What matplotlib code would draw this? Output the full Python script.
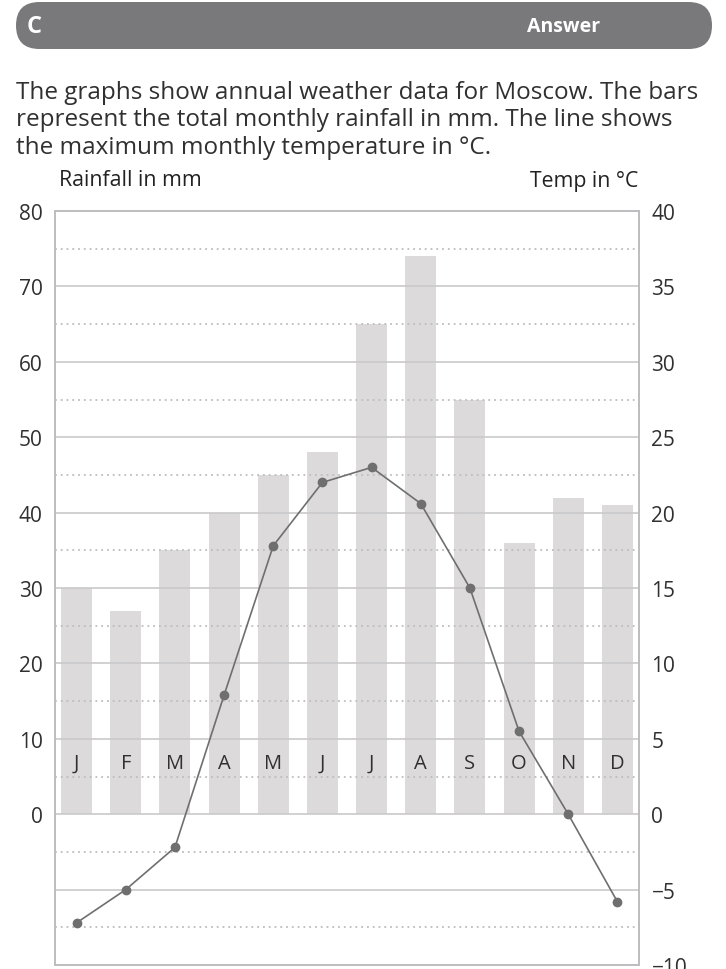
import matplotlib.pyplot as plt
import numpy as np
from matplotlib.patches import FancyBboxPatch

plt.rcParams['font.family'] = ['Open Sans', 'DejaVu Sans']

months = ['J', 'F', 'M', 'A', 'M', 'J', 'J', 'A', 'S', 'O', 'N', 'D']
rainfall = [30, 27, 35, 40, 45, 48, 65, 74, 55, 36, 42, 41]
temp_max = [-7.2, -5.0, -2.2, 7.9, 17.8, 22.0, 23.0, 20.6, 15.0, 5.5, 0.0, -5.8]
rain_ticks = [0, 10, 20, 30, 40, 50, 60, 70, 80]
temp_ticks = [-10, -5, 0, 5, 10, 15, 20, 25, 30, 35, 40]

text_col = '#303030'
grid_col = '#c9c9cb'
bar_col = '#dcdadb'
line_col = '#6f6f6f'

W, H = 726, 970
fig = plt.figure(figsize=(W / 100, H / 100), dpi=100)

# header and intro text, drawn in pixel units
top = fig.add_axes([0, 0, 1, 1])
top.set_xlim(0, W)
top.set_ylim(H, 0)
top.axis('off')
top.add_patch(FancyBboxPatch((16, 3), 696, 47,
                             boxstyle='round,pad=0,rounding_size=23.5',
                             fc='#79797b', ec='none'))
top.text(27, 27, 'C', color='white', fontsize=17, fontweight='bold',
         ha='left', va='center')
top.text(600, 27, 'Answer', color='white', fontsize=14, fontweight='bold',
         ha='right', va='center')
intro = ['The graphs show annual weather data for Moscow. The bars',
         'represent the total monthly rainfall in mm. The line shows',
         'the maximum monthly temperature in \u00b0C.']
for i, line in enumerate(intro):
    top.text(16, 93 + 27.5 * i, line, color=text_col, fontsize=17.5,
             ha='left', va='center')
top.text(59, 181, 'Rainfall in mm', color='#222222', fontsize=15.3,
         ha='left', va='center')
top.text(638, 181, 'Temp in \u00b0C', color='#222222', fontsize=15.3,
         ha='right', va='center')

# chart
ax = fig.add_axes([55 / W, 1 - 966 / H, 584 / W, 754 / H])
x = np.arange(len(months))
ax.bar(x, rainfall, width=0.63, color=bar_col, zorder=1)
ax.set_xlim(-0.44, 11.44)
ax.set_ylim(-20, 80)

for v in range(-10, 80, 10):
    ax.axhline(v, color=grid_col, lw=1.2, zorder=2)
for v in range(-15, 80, 10):
    ax.axhline(v, color='#bdbdbf', lw=1.3, ls=(0, (1, 2.2)), zorder=2)

for xi, m in zip(x, months):
    ax.text(xi, 6.8, m, color=text_col, fontsize=14.5, ha='center',
            va='center', zorder=3)

ax.set_xticks([])
ax.set_yticks(rain_ticks)
ax.tick_params(axis='y', length=0, pad=9, labelsize=15, labelcolor=text_col)
for s in ax.spines.values():
    s.set_color('#bdbdbf')
    s.set_linewidth(1.2)

ax2 = ax.twinx()
ax2.set_ylim(-10, 40)
ax2.plot(x, temp_max, color=line_col, lw=1.2, marker='o', ms=6,
         zorder=5)
ax2.set_yticks(temp_ticks)
ax2.tick_params(axis='y', length=0, pad=9, labelsize=15, labelcolor=text_col)
for s in ax2.spines.values():
    s.set_color('#bdbdbf')
    s.set_linewidth(1.2)

fig.savefig('out.png', dpi=100)
